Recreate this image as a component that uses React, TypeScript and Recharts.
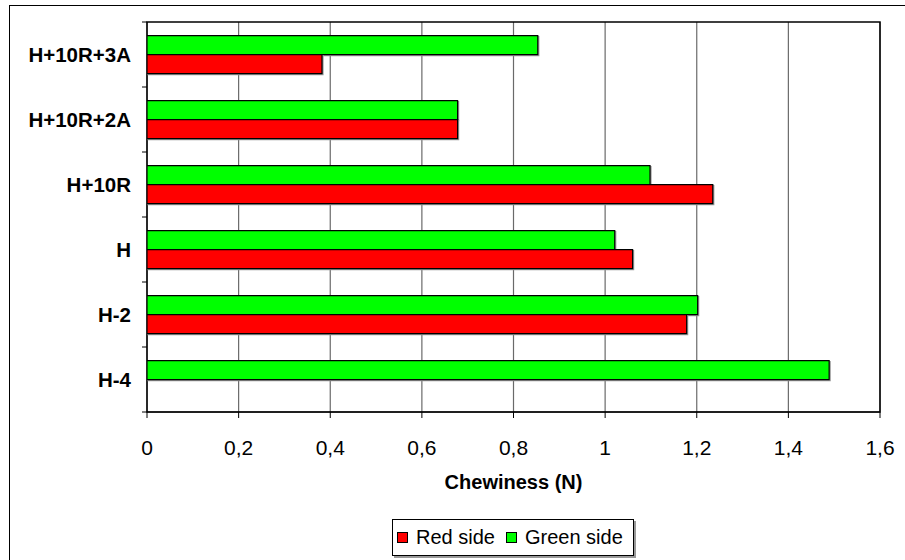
import React from 'react';
import * as R from 'recharts';
import { BarChart, Bar, XAxis, YAxis, CartesianGrid, Legend } from 'recharts';

const categories = ['H+10R+3A', 'H+10R+2A', 'H+10R', 'H', 'H-2', 'H-4'];
const redSide: (number | null)[] = [0.382, 0.678, 1.235, 1.06, 1.178, null];
const greenSide: (number | null)[] = [0.853, 0.678, 1.098, 1.021, 1.202, 1.489];
const xTicks = [0, 0.2, 0.4, 0.6, 0.8, 1, 1.2, 1.4, 1.6];
const legendItems = [
  { name: 'Red side', color: '#FF0000' },
  { name: 'Green side', color: '#00FF00' },
];

const data = categories.map((c, i) => ({ category: c, red: redSide[i], green: greenSide[i] }));

const FONT = 'Arial, "Liberation Sans", sans-serif';

const usePlotAreaSafe: () => any = (R as any).usePlotArea ?? (() => null);

const Frame = () => {
  const area = usePlotAreaSafe();
  if (!area) return null;
  const n = categories.length;
  const edges = Array.from({ length: n + 1 }, (_, i) => area.y + (area.height * i) / n);
  return (
    <g>
      <rect x={area.x} y={area.y} width={area.width} height={area.height} fill="none" stroke="#000" strokeWidth={1.5} />
      {edges.map((y, i) => (
        <line key={i} x1={area.x - 5} x2={area.x} y1={y} y2={y} stroke="#000" strokeWidth={1} />
      ))}
    </g>
  );
};

const LegendBox = () => (
  <div
    style={{
      boxSizing: 'border-box',
      width: 242,
      height: 37,
      border: '1px solid #000',
      boxShadow: '2px 2px 0 #999',
      background: '#fff',
      display: 'flex',
      alignItems: 'center',
      paddingLeft: 4,
      fontFamily: FONT,
      fontSize: 20,
      color: '#000',
      whiteSpace: 'nowrap',
    }}
  >
    {legendItems.map((it, i) => (
      <div key={it.name} style={{ display: 'flex', alignItems: 'center', marginLeft: i === 0 ? 0 : 11 }}>
        <span
          style={{
            display: 'inline-block',
            boxSizing: 'border-box',
            width: 11,
            height: 11,
            background: it.color,
            border: '1px solid #000',
            marginRight: 8,
          }}
        />
        <span>{it.name}</span>
      </div>
    ))}
  </div>
);

const barShadow = { filter: 'drop-shadow(1.5px 1.5px 0 #999)' };

export default function App() {
  return (
    <div style={{ position: 'absolute', left: 0, top: 0, width: 905, height: 560 }}>
      <div
        style={{
          position: 'absolute',
          left: 9,
          top: 5,
          width: 896,
          height: 555,
          boxSizing: 'border-box',
          borderLeft: '1px solid #000',
          borderTop: '1px solid #000',
        }}
      />
      <div style={{ position: 'absolute', left: 0, top: 0 }}>
        <BarChart
          width={905}
          height={560}
          data={data}
          layout="vertical"
          margin={{ top: 22, right: 25, left: 6, bottom: 68 }}
          barCategoryGap="21%"
          barGap={0}
          style={{ fontFamily: FONT }}
        >
          <CartesianGrid horizontal={false} stroke="#6a6a6a" strokeWidth={1.2} />
          <YAxis
            type="category"
            dataKey="category"
            width={141}
            tickLine={false}
            axisLine={false}
            tickSize={0}
            tickMargin={16}
            tick={{ fill: '#000', fontSize: 20.5, fontWeight: 'bold' }}
          />
          <XAxis
            type="number"
            domain={[0, 1.6]}
            ticks={xTicks}
            interval={0}
            height={80}
            tickSize={6}
            tickMargin={22}
            axisLine={{ stroke: '#000' }}
            tickLine={{ stroke: '#000' }}
            tick={{ fill: '#000', fontSize: 21 }}
            tickFormatter={(v: number) => String(v).replace('.', ',')}
            label={{
              value: 'Chewiness (N)',
              position: 'insideBottom',
              offset: 3,
              fill: '#000',
              fontSize: 20,
              fontWeight: 'bold',
            }}
            allowDataOverflow
          />
          <Bar dataKey="green" name="Green side" fill="#00FF00" stroke="#000" strokeWidth={1.2} style={barShadow} isAnimationActive={false} />
          <Bar dataKey="red" name="Red side" fill="#FF0000" stroke="#000" strokeWidth={1.2} style={barShadow} isAnimationActive={false} />
          <Frame />
          <Legend
            layout="horizontal"
            align="center"
            verticalAlign="middle"
            content={() => <LegendBox />}
            wrapperStyle={{ left: 392, top: 519, width: 242, height: 37 }}
          />
        </BarChart>
      </div>
    </div>
  );
}
